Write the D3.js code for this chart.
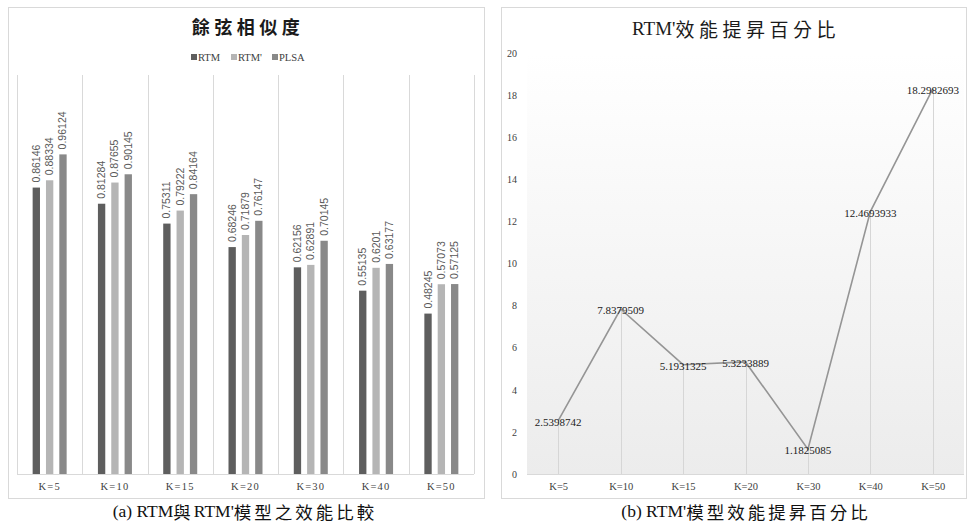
<!DOCTYPE html>
<html><head><meta charset="utf-8">
<script src="https://cdn.jsdelivr.net/npm/d3@7"></script>
<style>
body{margin:0;background:#fff;}
svg{display:block;}
</style></head>
<body>
<svg id="c" width="968" height="523"></svg>
<script>
// ---- data ----
const categories = ["K=5","K=10","K=15","K=20","K=30","K=40","K=50"];
const seriesNames = ["RTM","RTM'","PLSA"];
const rtm      = [0.86146,0.81284,0.75311,0.68246,0.62156,0.55135,0.48245];
const rtmPrime = [0.88334,0.87655,0.79222,0.71879,0.62891,0.6201,0.57073];
const plsa     = [0.96124,0.90145,0.84164,0.76147,0.70145,0.63177,0.57125];
const improvement = [2.5398742,7.8379509,5.1931325,5.3233889,1.1825085,12.4693933,18.2982693];
const improvementLabels = ["2.5398742","7.8379509","5.1931325","5.3233889","1.1825085","12.4693933","18.2982693"];
const yTicksRight = [0,2,4,6,8,10,12,14,16,18,20];

const leftTitle = "餘弦相似度";
const rightTitle = "RTM'效能提昇百分比";
const captionA = "(a) RTM與RTM'模型之效能比較";
const captionB = "(b) RTM'模型效能提昇百分比";

const seriesValues = [rtm, rtmPrime, plsa];
const seriesColors = ["#5e5e5e","#b5b5b5","#898989"];
const SERIF = "'Liberation Serif','Noto Sans CJK TC',serif";
const SANS = "'Liberation Sans Narrow','Liberation Sans',Arial,sans-serif";
const CJK = "'Noto Sans CJK TC','Liberation Serif',serif";

const svg = d3.select("#c");

function mixedText(sel, str, cjkSpacing){
  const runs = str.match(/[\u3000-\u9fff\uf900-\ufaff]+|[^\u3000-\u9fff\uf900-\ufaff]+/g);
  runs.forEach(r=>{
    const isCjk = /[\u3000-\u9fff]/.test(r);
    const t = sel.append("tspan").text(r);
    if(isCjk){ t.attr("font-family",CJK).attr("letter-spacing",cjkSpacing+"px"); }
  });
}

// ================= LEFT CHART =================
const L = {x0:8, y0:7, x1:484, y1:498, px0:17, px1:474, py0:75, py1:474};
svg.append("rect").attr("x",L.x0+0.5).attr("y",L.y0+0.5).attr("width",L.x1-L.x0).attr("height",L.y1-L.y0)
  .attr("fill","#fff").attr("stroke","#d9d9d9");

const x0 = d3.scaleBand().domain(categories).range([L.px0,L.px1]).padding(0);
const x1 = d3.scaleBand().domain(seriesNames).range([-17,17]).paddingInner(0.45).paddingOuter(0);
const yL = d3.scaleLinear().domain([0,1.2]).range([L.py1,L.py0]);

const gL = svg.append("g");
const bounds = categories.map(c=>x0(c)).concat([x0(categories[categories.length-1])+x0.bandwidth()]);
gL.selectAll("line.vg").data(bounds).join("line")
  .attr("x1",d=>Math.round(d)+0.5).attr("x2",d=>Math.round(d)+0.5)
  .attr("y1",L.py0).attr("y2",L.py1).attr("stroke","#d9d9d9");
gL.append("line").attr("x1",L.px0).attr("x2",L.px1).attr("y1",L.py1+0.5).attr("y2",L.py1+0.5).attr("stroke","#d9d9d9");

seriesNames.forEach((s,si)=>{
  const vals = seriesValues[si];
  gL.selectAll("rect.b"+si).data(categories).join("rect")
    .attr("x",(c)=>x0(c)+x0.bandwidth()/2+x1(s))
    .attr("width",x1.bandwidth())
    .attr("y",(c,i)=>yL(vals[i]))
    .attr("height",(c,i)=>L.py1-yL(vals[i]))
    .attr("fill",seriesColors[si]);
  gL.selectAll("text.l"+si).data(categories).join("text")
    .attr("transform",(c,i)=>`translate(${x0(c)+x0.bandwidth()/2+x1(s)+x1.bandwidth()/2+3.5},${yL(vals[i])-5}) rotate(-90)`)
    .attr("font-family",SANS).attr("font-size",10.5).attr("fill","#595959")
    .text((c,i)=>String(vals[i]));
});

const xAxisL = d3.axisBottom(x0).tickSize(0).tickPadding(0);
const axL = gL.append("g").attr("transform",`translate(0,${L.py1})`).call(xAxisL);
axL.select(".domain").remove();
axL.selectAll("text").attr("y",13).attr("dy","0.32em").attr("font-family",SERIF).attr("font-size",10.5)
  .attr("fill","#404040").attr("letter-spacing","1.2px");

svg.append("text").attr("x",(L.x0+L.x1)/2+2).attr("y",26).attr("text-anchor","middle").attr("dominant-baseline","central")
  .attr("font-family",CJK).attr("font-weight","bold").attr("font-size",18).attr("letter-spacing","4.5px")
  .attr("fill","#1a1a1a").text(leftTitle);

const legend = svg.append("g").attr("transform","translate(0,57)");
const legX = [191,231,272];
seriesNames.forEach((s,si)=>{
  legend.append("rect").attr("x",legX[si]).attr("y",-3).attr("width",6).attr("height",6).attr("fill",seriesColors[si]);
  legend.append("text").attr("x",legX[si]+7).attr("y",0).attr("dominant-baseline","central")
    .attr("font-family",SERIF).attr("font-size",10.5).attr("fill","#404040").text(s);
});

svg.append("text").attr("x",245).attr("y",511).attr("text-anchor","middle").attr("dominant-baseline","central")
  .attr("font-family",SERIF).attr("font-size",17.5).attr("fill","#111").call(t=>mixedText(t,captionA,3));

// ================= RIGHT CHART =================
const R = {x0:501, y0:7, x1:967, y1:498, px0:527, px1:964, py0:53, py1:474};
svg.append("rect").attr("x",R.x0+0.5).attr("y",R.y0+0.5).attr("width",R.x1-R.x0-1).attr("height",R.y1-R.y0)
  .attr("fill","#fff").attr("stroke","#d9d9d9");

const defs = svg.append("defs");
const grad = defs.append("linearGradient").attr("id","bgGrad").attr("x1",0).attr("x2",0).attr("y1",0).attr("y2",1);
grad.append("stop").attr("offset","0%").attr("stop-color","#ffffff");
grad.append("stop").attr("offset","100%").attr("stop-color","#ececec");
svg.append("rect").attr("x",R.px0).attr("y",R.py0).attr("width",R.px1-R.px0).attr("height",R.py1-R.py0).attr("fill","url(#bgGrad)");

const xR = d3.scalePoint().domain(categories).range([R.px0,R.px1]).padding(0.5);
const yR = d3.scaleLinear().domain([0,20]).range([R.py1,R.py0]);

const gR = svg.append("g");
gR.selectAll("line.drop").data(categories).join("line")
  .attr("x1",c=>Math.round(xR(c))+0.5).attr("x2",c=>Math.round(xR(c))+0.5)
  .attr("y1",(c,i)=>yR(improvement[i])).attr("y2",R.py1).attr("stroke","#d6d6d6");
gR.append("line").attr("x1",R.px0).attr("x2",R.px1).attr("y1",R.py1+0.5).attr("y2",R.py1+0.5).attr("stroke","#d9d9d9");

const yAxisR = d3.axisLeft(yR).tickValues(yTicksRight).tickSize(0).tickPadding(0);
const ayR = gR.append("g").attr("transform",`translate(517,0)`).call(yAxisR);
ayR.select(".domain").remove();
ayR.selectAll("text").attr("font-family",SERIF).attr("font-size",10).attr("fill","#404040");

const xAxisR = d3.axisBottom(xR).tickSize(0).tickPadding(0);
const axR = gR.append("g").attr("transform",`translate(0,${R.py1})`).call(xAxisR);
axR.select(".domain").remove();
axR.selectAll("text").attr("y",13).attr("dy","0.32em").attr("font-family",SERIF).attr("font-size",10.5).attr("fill","#404040");

const line = d3.line().x((d,i)=>xR(categories[i])).y(d=>yR(d));
gR.append("path").datum(improvement).attr("d",line).attr("fill","none").attr("stroke","#959595").attr("stroke-width",1.6);

gR.selectAll("text.dl").data(improvementLabels).join("text")
  .attr("x",(d,i)=>xR(categories[i])).attr("y",(d,i)=>yR(improvement[i])+1)
  .attr("text-anchor","middle").attr("dominant-baseline","central")
  .attr("font-family",SERIF).attr("font-size",11).attr("fill","#1a1a1a").text(d=>d);

svg.append("text").attr("x",736).attr("y",28).attr("text-anchor","middle").attr("dominant-baseline","central")
  .attr("font-family",SERIF).attr("font-size",19).attr("fill","#1a1a1a")
  .call(t=>mixedText(t,rightTitle,4.5));

svg.append("text").attr("x",746).attr("y",511).attr("text-anchor","middle").attr("dominant-baseline","central")
  .attr("font-family",SERIF).attr("font-size",17.5).attr("fill","#111").call(t=>mixedText(t,captionB,3));
</script>
</body></html>
